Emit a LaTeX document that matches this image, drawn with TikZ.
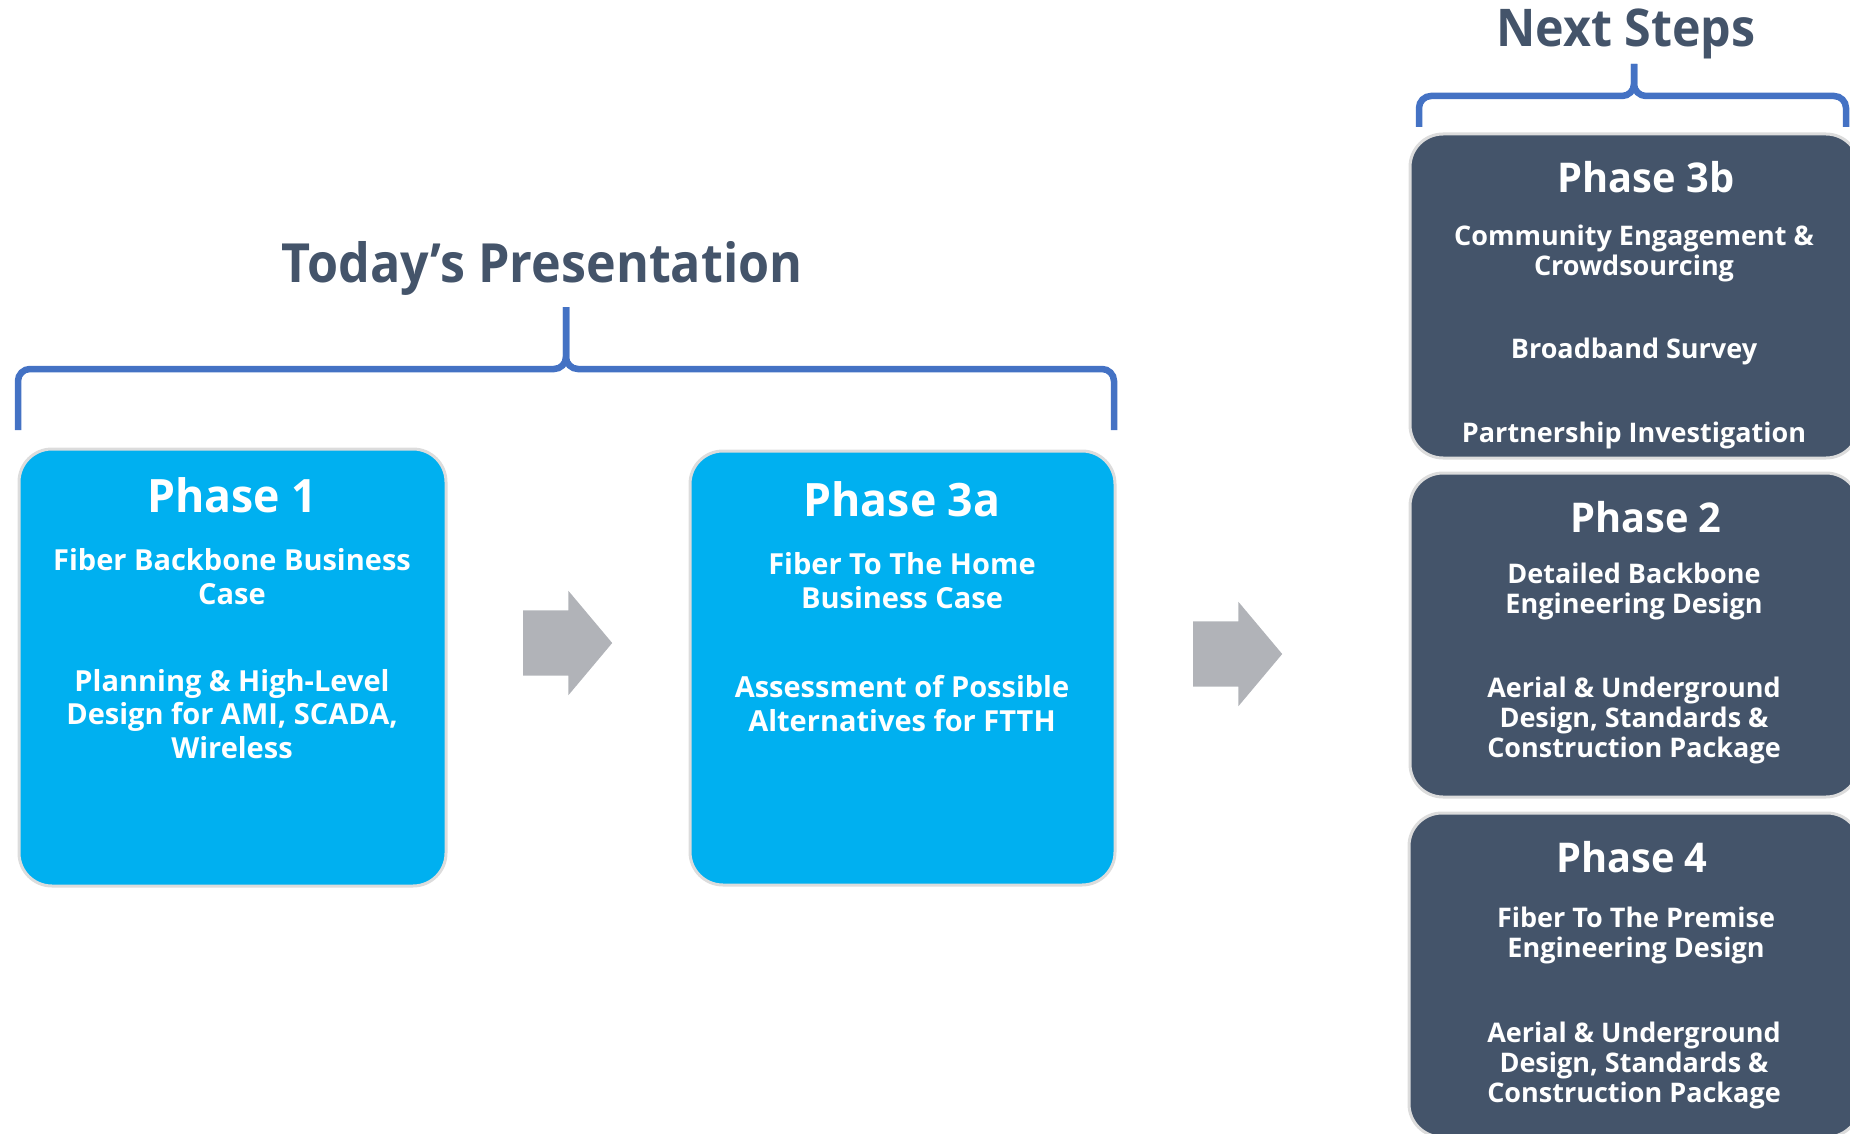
\documentclass[tikz,border=0pt]{standalone}
\usepackage{fontspec}
\setmainfont{Open Sans}
\newfontfamily\titlefont{Open Sans}[FakeStretch=0.97]
\newfontfamily\headfont{Open Sans}[FakeStretch=0.93]
\usetikzlibrary{shapes.arrows}

\definecolor{phasecyan}{HTML}{00B0F0}
\definecolor{slate}{HTML}{44546A}
\definecolor{braceblue}{HTML}{4472C4}
\definecolor{arrowgray}{HTML}{B1B3B8}
\definecolor{edgegray}{HTML}{DCDCDC}

\begin{document}
\begin{tikzpicture}[x=1pt, y=-1pt,
	every node/.style={inner sep=0pt, font=\bfseries},
	phasebox/.style={draw=edgegray, line width=3pt, rounded corners=33pt, fill=#1},
	heading/.style={text=slate, anchor=base, font=\headfont\bfseries\fontsize{54}{60}\selectfont},
	title/.style={text=white, anchor=base, font=\titlefont\bfseries\fontsize{46}{50}\selectfont},
	rtitle/.style={title, font=\titlefont\bfseries\fontsize{41}{46}\selectfont},
	body/.style={text=white, anchor=base, align=center, font=\bfseries\fontsize{29}{33.5}\selectfont},
	rbody/.style={text=white, anchor=base, align=center, font=\bfseries\fontsize{27}{30}\selectfont},
	brace/.style={draw=braceblue, line width=6.5pt, rounded corners=12pt},
	blockarrow/.style={single arrow, fill=arrowgray, inner xsep=0pt, inner ysep=32.5pt,
		single arrow head extend=19.5pt, single arrow tip angle=100, minimum height=89pt, anchor=tail}]
	\clip (0,0) rectangle (1850,1134);

	% headings and braces
	\node (today) [heading] at (542,282) {Today’s Presentation};
	\node (next) [heading, font=\headfont\bfseries\fontsize{52}{56}\selectfont] at (1626,47) {Next Steps};
	\draw [brace] (18,430) -- (18,369) -- (566,369) -- (566,307);
	\draw [brace] (566,307) -- (566,369) -- (1114,369) -- (1114,430);
	\draw [brace] (1419,127) -- (1419,96) -- (1634,96) -- (1634,64);
	\draw [brace] (1634,64) -- (1634,96) -- (1846,96) -- (1846,127);

	% today's phases
	\node (p1) [phasebox=phasecyan, minimum width=427pt, minimum height=437pt] at (232.5,667.5) {};
	\node (p3a) [phasebox=phasecyan, minimum width=425pt, minimum height=434pt] at (902.5,668) {};
	\node (t1) [title] at (232,512) {Phase 1};
	\node (b1a) [body] at (232,604) {Fiber Backbone Business\\Case};
	\node (b1b) [body] at (232,758) {Planning \& High-Level\\Design for AMI, SCADA,\\Wireless};
	\node (t3a) [title] at (902,516) {Phase 3a};
	\node (b3aa) [body] at (902,608) {Fiber To The Home\\Business Case};
	\node (b3ab) [body] at (902,731) {Assessment of Possible\\Alternatives for FTTH};

	\node (go1) [blockarrow] at (523,643) {};
	\node (go2) [blockarrow] at (1193,654) {};

	% next steps
	\node (p3b) [phasebox=slate, minimum width=449pt, minimum height=324pt] at (1634.5,296) {};
	\node (p2) [phasebox=slate, minimum width=449pt, minimum height=324pt] at (1634.5,635) {};
	\node (p4) [phasebox=slate, minimum width=451pt, minimum height=324pt] at (1634.5,975) {};
	\node (t3b) [rtitle] at (1646,193) {Phase 3b};
	\node (b3ba) [rbody] at (1634,275) {Community Engagement \&\\Crowdsourcing};
	\node (b3bb) [rbody] at (1634,358) {Broadband Survey};
	\node (b3bc) [rbody] at (1634,442) {Partnership Investigation};
	\node (t2) [rtitle] at (1646,532) {Phase 2};
	\node (b2a) [rbody] at (1634,613) {Detailed Backbone\\Engineering Design};
	\node (b2b) [rbody] at (1634,757) {Aerial \& Underground\\Design, Standards \&\\Construction Package};
	\node (t4) [rtitle] at (1632,872) {Phase 4};
	\node (b4a) [rbody] at (1636,957) {Fiber To The Premise\\Engineering Design};
	\node (b4b) [rbody] at (1634,1102) {Aerial \& Underground\\Design, Standards \&\\Construction Package};
\end{tikzpicture}
\end{document}
